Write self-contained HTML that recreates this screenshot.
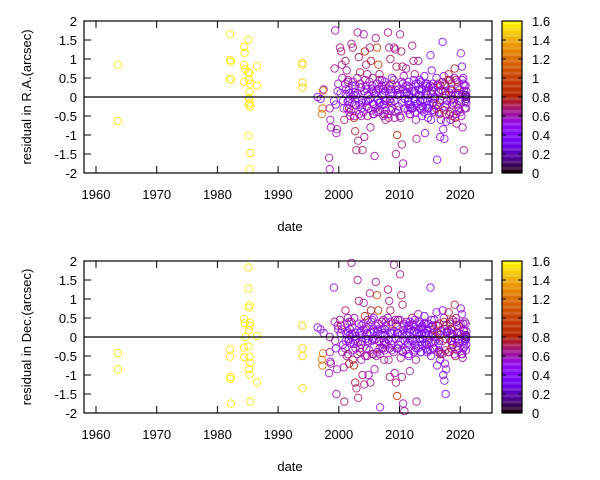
<!DOCTYPE html>
<html><head><meta charset="utf-8">
<style>
body{margin:0;background:#fff;width:600px;height:480px;overflow:hidden}
svg{display:block;font-family:"Liberation Sans",sans-serif;font-size:13px}
</style></head>
<body>
<svg id="chart" width="600" height="480" viewBox="0 0 600 480"></svg>
<script>
// ---- data ----
const dates = [
1963.6,1963.6,1982.1,1982.1,1982.2,1982.1,1982.2,1984.4,1984.5,1984.4,1984.6,1984.4,1985.1,1985.3,1985.2,1985.4,1985.3,1985.2,1985.1,1985.3,1985.4,1985.1,1985.4,1986.5,1986.5,1985.3,1985.2,
1994.0,1994.0,1994.0,1994.0,
1996.5,1997.0,1997.5,1997.4,1997.2,1997.3,1998.5,1998.6,1998.7,1998.4,1998.5,
1999.3,1999.4,1999.6,1999.7,1999.8,1999.5,1999.9,1999.2,
2000.2,2000.4,2000.5,2000.6,2000.8,2000.9,2000.3,2000.7,
2001.1,2001.3,2001.5,2001.7,2001.9,2001.2,2001.6,2001.8,
2002.1,2002.3,2002.5,2002.7,2002.9,2002.2,2002.6,2002.8,
2003.1,2003.3,2003.5,2003.7,2003.9,2003.2,2003.6,2003.8,
2004.1,2004.3,2004.5,2004.7,2004.9,2004.2,2004.6,2004.8,
2005.1,2005.3,2005.5,2005.7,2005.9,2005.2,2005.6,2005.8,
2006.1,2006.3,2006.5,2006.7,2006.2,2006.4,2006.6,2006.8,
2007.1,2007.3,2007.5,2007.7,2007.2,2007.4,2007.6,2007.8,
2008.1,2008.3,2008.5,2008.7,2008.2,2008.4,2008.6,2008.8,
2009.1,2009.3,2009.5,2009.7,2009.2,2009.4,2009.6,2009.8,
2010.1,2010.3,2010.5,2010.7,2010.2,2010.4,2010.6,2010.8,
2011.1,2011.3,2011.5,2011.7,2011.2,2011.4,2011.6,2011.8,
2012.1,2012.3,2012.5,2012.7,2012.2,2012.4,2012.6,2012.8,
2013.1,2013.3,2013.5,2013.7,2013.2,2013.4,2013.6,2013.8,
2014.1,2014.3,2014.5,2014.7,2014.2,2014.4,2014.6,2014.8,
2015.1,2015.3,2015.5,2015.7,2015.2,2015.4,2015.6,2015.8,
2016.1,2016.3,2016.5,2016.7,2016.2,2016.4,2016.6,2016.8,
2017.1,2017.3,2017.5,2017.7,2017.2,2017.4,2017.6,2017.8,
2018.1,2018.3,2018.5,2018.7,2018.2,2018.4,2018.6,2018.8,
2019.1,2019.3,2019.5,2019.7,2019.2,2019.4,2019.6,2019.8,
2020.1,2020.3,2020.5,2020.7,2020.2,2020.4,2020.6,2020.8,
2020.9,2021.0,2021.0,2020.95,2020.9,2021.0,2020.95,2021.0,
2001.15,2001.45,2001.65,2001.85, 2002.15,2002.45,2002.65,2002.85, 2003.15,2003.45,2003.65,2003.85, 2004.15,2004.45,2004.65,2004.85,
2005.15,2005.45,2005.65,2005.85, 2006.15,2006.45,2006.65,2006.85, 2007.15,2007.45,2007.65,2007.85, 2008.15,2008.45,2008.65,2008.85,
2009.15,2009.45,2009.65,2009.85, 2010.15,2010.45,2010.65,2010.85, 2011.15,2011.45,2011.65,2011.85, 2012.15,2012.45,2012.65,2012.85,
2013.15,2013.45,2013.65,2013.85, 2014.15,2014.45,2014.65,2014.85, 2015.15,2015.45,2015.65,2015.85, 2016.15,2016.45,2016.65,2016.85,
2017.15,2017.45,2017.65,2017.85, 2018.15,2018.45,2018.65,2018.85, 2019.15,2019.45,2019.65,2019.85, 2020.15,2020.45,2020.65,2020.85,
2001.05,2001.35,2001.55,2001.75, 2002.05,2002.35,2002.55,2002.75, 2003.05,2003.35,2003.55,2003.75, 2004.05,2004.35,2004.55,2004.75,
2005.05,2005.35,2005.55,2005.75, 2006.05,2006.35,2006.55,2006.75, 2007.05,2007.35,2007.55,2007.75, 2008.05,2008.35,2008.55,2008.75,
2009.05,2009.35,2009.55,2009.75, 2010.05,2010.35,2010.55,2010.75, 2011.05,2011.35,2011.55,2011.75, 2012.05,2012.35,2012.55,2012.75,
2013.05,2013.35,2013.55,2013.75, 2014.05,2014.35,2014.55,2014.75, 2015.05,2015.35,2015.55,2015.75, 2016.05,2016.35,2016.55,2016.75,
2017.05,2017.35,2017.55,2017.75, 2018.05,2018.35,2018.55,2018.75, 2019.05,2019.35,2019.55,2019.75, 2020.05,2020.35,2020.55,2020.75
];
const raResid = [
.85,-.63,1.65,.97,.93,.47,.46,1.32,1.16,.84,.73,.40,.65,.63,.45,.35,.13,-.03,-1.02,-.15,-.25,1.5,-1.47,.82,.30,-1.9,-.2,
.9,.85,.38,.25,
0,-.05,.2,.17,-.45,-.3,-.3,-.6,-.8,-1.6,-1.9,
.75,1.75,-.95,-.85,.15,-.2,.35,-.1,
1.3,1.2,.85,.5,-.3,-.6,.1,-.1,
.95,.7,.4,-.3,-.5,.2,-.1,.1,
1.4,1.3,-.55,-.9,-1.4,.3,-.2,.05,
1.7,1.05,.65,-.5,-1.4,-1.15,.25,-.15,
1.65,1.2,.85,.6,-.3,-1.05,.2,-.1,
1.3,.95,.3,-.45,-1.55,-.8,.15,-.2,
1.55,1.3,.85,.6,-.4,.2,-.15,-.35,
.45,.2,-.45,-.6,-.2,.1,-.1,.3,
1.7,1.3,1.0,.35,-.55,-.1,.2,-.3,
1.3,1.25,.8,.1,-.55,-1.5,-1.0,.2,
1.65,1.2,.8,.55,-.55,-1.25,-1.75,.1,
.75,.3,-.2,-.45,.1,-.1,.25,-.3,
1.35,.95,.6,-.6,-.3,.15,-.1,-1.1,
.95,.45,-.3,-.5,.2,-.1,.15,-.25,
.55,.35,-.3,-.55,-.95,.1,-.1,.25,
1.1,.7,.35,-.35,-.6,.15,-.15,0,
.5,.3,-.4,-1.05,-1.65,.15,-.15,-.6,
1.45,.55,.35,-.65,-.85,-1.1,.15,-.2,
.6,.45,.2,-.2,-.45,-.6,.05,-.05,
.75,.45,.25,-.3,-.55,-.7,.1,-.1,
1.15,.8,.5,.3,-.5,-.8,-1.4,.05,
.3,.15,-.15,-.3,.05,0,-.05,.02,
.08,-.12,.18,-.05, -.15,.05,.12,-.22, .1,-.2,.25,-.08, .15,-.1,-.25,.05,
-.05,.2,-.18,.1, .12,-.08,.22,-.15, .05,-.2,.15,-.1, .2,-.05,-.15,.1,
-.1,.18,.05,-.25, .08,-.15,.2,-.05, .12,-.1,.05,-.2, .15,-.05,.1,-.18,
.05,-.12,.2,-.08, -.1,.15,.05,-.2, .1,-.15,.25,-.05, -.2,.12,-.08,.18,
.15,-.25,.05,-.1, .12,-.08,.2,-.15, .1,-.2,.05,.18, -.12,.08,.15,-.1,
.35,-.3,.45,-.4, -.35,.4,-.5,.3, .5,-.45,.35,-.3, -.4,.45,.3,-.5,
.4,-.35,.5,-.45, -.3,.35,-.4,.45, .3,-.5,.4,-.35, -.45,.3,-.35,.5,
.45,-.4,.3,-.35, -.5,.4,.35,-.3, .3,-.35,.4,-.45, -.3,.45,-.4,.35,
.35,-.3,.4,-.35, -.4,.3,.35,-.3, .3,-.35,.25,-.4, -.3,.35,-.45,.3,
.4,-.35,.3,-.45, .45,-.4,.35,-.5, .5,-.45,.4,-.35, -.4,.45,.35,-.3
];
const decResid = [
-.42,-.85,-.33,-.52,-1.05,-1.1,-1.75,.48,.36,-.28,0,-.53,1.28,.83,.77,.37,.3,.18,-.25,-.52,-.68,1.83,-1.7,-1.2,.03,-.99,-.84,
.3,-.3,-.5,-1.35,
.25,.2,.1,-.43,-.6,-.75,0,-.65,-.7,-.95,-.4,
.4,-.1,-1.5,-.85,.3,-.3,.2,1.3,
.45,.3,.2,-.4,-.8,-1.7,.1,-.2,
.7,-.5,.5,-.7,-.15,.1,-.1,.05,
1.95,-.6,-.75,-1.2,-1.35,.25,-.1,.02,
1.5,.95,-.3,-.6,-1.0,-1.6,.15,-.1,
.9,.55,.2,-.5,-1.0,-1.25,.25,-.1,
1.15,.7,.45,-.45,-.85,-1.2,-.05,.15,
1.45,1.1,.7,-.3,-.5,.2,-.1,-1.85,
.4,-.3,-.6,-.15,.1,-.2,.2,.3,
1.25,.95,.7,.35,-.6,-1.05,.1,-.1,
1.9,.45,.3,-.3,-.95,-1.2,-1.55,.1,
1.65,1.1,.85,.35,-.55,-1.05,-1.75,-1.95,
.4,.2,-.5,-.9,.1,-.2,.3,-.1,
.5,.3,-.35,-.6,-.1,.15,-.2,-1.7,
.6,.4,-.4,-.2,.1,-.05,.25,.2,
.55,.35,-.2,-.35,-.15,.1,.2,.05,
1.3,.45,.3,-.3,-.5,.1,-.15,0,
.65,.3,-.35,-.6,-.75,.1,-.1,-.4,
.7,.5,-.7,-.85,-1.0,-1.15,-1.5,.15,
.65,.4,.2,-.2,-.4,.1,-.1,.05,
.85,.5,.3,-.3,-.5,-.25,.1,-.05,
.75,.6,.35,-.25,-.45,-.55,.15,-.1,
.35,.15,-.2,-.35,.05,0,-.05,.02,
-.1,.15,-.05,.2, .08,-.18,.12,-.06, -.15,.1,-.2,.05, .18,-.05,.1,-.15,
.12,-.1,.2,-.08, -.05,.15,-.12,.08, .2,-.1,.05,-.18, -.08,.12,-.2,.1,
.15,-.05,.1,-.2, -.12,.08,.18,-.1, .05,-.15,.12,.2, -.1,.15,-.05,.1,
.2,-.12,.08,-.05, .1,-.2,.15,-.08, -.15,.05,.2,-.1, .12,-.18,.05,.15,
-.1,.2,-.05,.12, .15,-.1,.08,-.2, -.05,.12,-.15,.1, .08,-.12,.18,-.05,
-.3,.35,-.45,.4, .4,-.35,.5,-.3, -.45,.35,-.4,.3, .35,-.5,-.3,.45,
-.35,.4,-.45,.5, .3,-.4,.35,-.45, -.3,.45,-.35,.4, .5,-.3,.4,-.35,
-.4,.35,-.3,.45, .45,-.35,-.4,.3, -.35,.3,-.45,.4, .35,-.4,.45,-.3,
-.3,.35,-.4,.3, .35,-.3,-.4,.35, -.35,.3,-.3,.45, .3,-.4,.35,-.45,
-.45,.4,-.35,.3, -.4,.35,-.3,.45, -.45,.4,-.35,.3, .35,-.45,-.3,.4
];
const colorVal = [
1.55,1.55,1.55,1.55,1.55,1.55,1.55,1.55,1.55,1.55,1.55,1.55,1.55,1.55,1.55,1.55,1.55,1.55,1.55,1.55,1.55,1.55,1.55,1.55,1.55,1.55,1.55,
1.5,1.5,1.5,1.5,
.5,.5,.5,1.2,1.2,1.2,.6,.6,.6,.6,.6,
.65,.6,.6,.6,.5,.45,.55,.5,
.65,.7,.65,.6,.6,.7,.5,.45,
.7,.65,.6,.75,.55,.45,.45,.4,
.65,.7,.8,.75,.7,.5,.45,.4,
.65,.7,.75,.6,.7,.7,.45,.5,
.6,.8,.7,.65,.55,.65,.45,.45,
.65,.75,.5,.6,.6,.65,.45,.45,
.65,1.0,.95,.7,.6,.45,.45,.5,
.6,.55,.65,.7,.45,.45,.4,.5,
.65,.65,.7,1.0,.65,.7,.45,.5,
.65,.65,.7,.55,.6,.65,.85,.5,
.65,.7,.7,.6,.65,.65,.6,.65,
.6,.5,.45,.65,.45,.4,.45,.5,
.65,.7,.65,.6,.45,.45,.4,.65,
.6,.45,.45,.5,.4,.4,.4,.45,
.4,.45,.45,.45,.45,.4,.35,.4,
.4,.45,.4,.45,.45,.4,.35,.4,
.45,.45,.4,.45,.45,.4,.35,.45,
.45,.45,.45,.45,.45,.45,.4,.4,
.75,.8,.75,.7,.65,.45,.75,.7,
.75,.7,.8,.7,.75,.65,.75,.7,
.55,.45,.5,.45,.55,.6,.65,.45,
.6,.5,.45,.55,.1,.05,.15,.6,
.5,.45,.55,.4, .6,.45,.5,.4, .55,.45,.6,.45, .5,.4,.55,.45,
.45,.5,.4,.55, .5,.45,.6,.4, .45,.55,.4,.5, .5,.45,.55,.4,
.45,.5,.4,.45, .55,.45,.5,.4, .4,.45,.35,.4, .4,.35,.45,.4,
.4,.45,.35,.4, .4,.35,.45,.4, .7,.45,.75,.4, .7,.45,.75,.45,
.7,.45,.75,.4, .45,.5,.4,.45, .45,.55,.4,.5, .5,.45,.55,.4,
.6,.5,.65,.55, .65,.55,.6,.5, .6,.55,.65,.5, .55,.6,.5,.65,
.6,.55,.65,.5, .6,.5,.55,.65, .55,.6,.5,.55, .6,.65,.55,.5,
.6,.55,.5,.65, .55,.6,.5,.55, .5,.45,.55,.5, .45,.5,.55,.45,
.45,.5,.45,.5, .45,.5,.45,.4, .5,.45,.5,.45, .7,.65,.75,.7,
.7,.75,.65,.7, .7,.65,.75,.7, .55,.5,.6,.55, .6,.55,.5,.6
];
const xTicks = [1960,1970,1980,1990,2000,2010,2020];
const yTicks = [2,1.5,1,0.5,0,-0.5,-1,-1.5,-2];
const cbTicks = [1.6,1.4,1.2,1,0.8,0.6,0.4,0.2,0];
const panels = [
  {top:21, label:'residual in R.A.(arcsec)', values: raResid, key:'ra'},
  {top:261, label:'residual in Dec.(arcsec)', values: decResid, key:'dec'}
];

// ---- helpers ----
const NS='http://www.w3.org/2000/svg';
const svg=document.getElementById('chart');
const L=84,R=492,H=152;
function xs(d){return 96+(d-1960)*6.07;}
function ys(v,top){return top+76-v*38;}
function pal(c){
  let x=Math.max(0,Math.min(1,c/1.6));
  let r=Math.sqrt(x), g=x*x*x, b=Math.max(0,Math.sin(2*Math.PI*x));
  return 'rgb('+Math.round(r*255)+','+Math.round(g*255)+','+Math.round(b*255)+')';
}
function mk(tag,attrs,parent){const e=document.createElementNS(NS,tag);for(const k in attrs)e.setAttribute(k,attrs[k]);(parent||svg).appendChild(e);return e;}

panels.forEach(p=>{
  const g=mk('g',{});
  
  
  const top=p.top, bot=top+H;
  const pts=mk('g',{},g);
  
  
  for(let i=0;i<dates.length;i++){
    const c=mk('circle',{cx:xs(dates[i]).toFixed(1),cy:ys(p.values[i],top).toFixed(1),r:3.7,fill:'none',stroke:pal(colorVal[i]),'stroke-width':1,'stroke-opacity':0.85},pts);
    
    
  }
  const z=mk('line',{x1:L,x2:R,y1:ys(0,top),y2:ys(0,top),stroke:'#000','stroke-width':1.2},g);
  
  
  const fr=mk('rect',{x:L,y:top,width:R-L,height:H,fill:'none',stroke:'#000','stroke-width':1.2},g);
  
  
  xTicks.forEach(t=>{
    const x=xs(t);
    mk('line',{x1:x,x2:x,y1:bot,y2:bot-7,stroke:'#000'},g);
    mk('line',{x1:x,x2:x,y1:top,y2:top+7,stroke:'#000'},g);
    const tx=mk('text',{x:x,y:bot+26,'text-anchor':'middle',fill:'#000'},g);
    tx.textContent=t;
    
    
  });
  yTicks.forEach(t=>{
    const y=ys(t,top);
    mk('line',{x1:L,x2:L+7,y1:y,y2:y,stroke:'#000'},g);
    mk('line',{x1:R,x2:R-7,y1:y,y2:y,stroke:'#000'},g);
    const tx=mk('text',{x:77,y:y+5,'text-anchor':'end',fill:'#000'},g);
    tx.textContent=t;
    
    
  });
  const xt=mk('text',{x:290,y:bot+58,'text-anchor':'middle',fill:'#000'},g);
  xt.textContent='date';
  
  
  const yt=mk('text',{x:0,y:0,'text-anchor':'middle',fill:'#000',transform:'translate(31,'+(top+76)+') rotate(-90)'},g);
  yt.textContent=p.label;
  
  
  const cb=mk('g',{},g);
  
  
  const n=48, bh=H/n;
  for(let k=0;k<n;k++){
    const c=(k+0.5)/n*1.6;
    mk('rect',{x:502,y:(bot-(k+1)*bh).toFixed(2),width:20,height:(bh+0.3).toFixed(2),fill:pal(c),opacity:(k%2?0.85:1)},cb);
  }
  mk('rect',{x:502,y:top,width:20,height:H,fill:'none',stroke:'#000','stroke-width':1.2},cb);
  cbTicks.forEach(t=>{
    const y=bot-t/1.6*H;
    mk('line',{x1:502,x2:506,y1:y,y2:y,stroke:'#000'},cb);
    mk('line',{x1:522,x2:518,y1:y,y2:y,stroke:'#000'},cb);
    const tx=mk('text',{x:532,y:y+5,fill:'#000'},cb);
    tx.textContent=t;
    
    
  });
});
</script>
</body></html>
